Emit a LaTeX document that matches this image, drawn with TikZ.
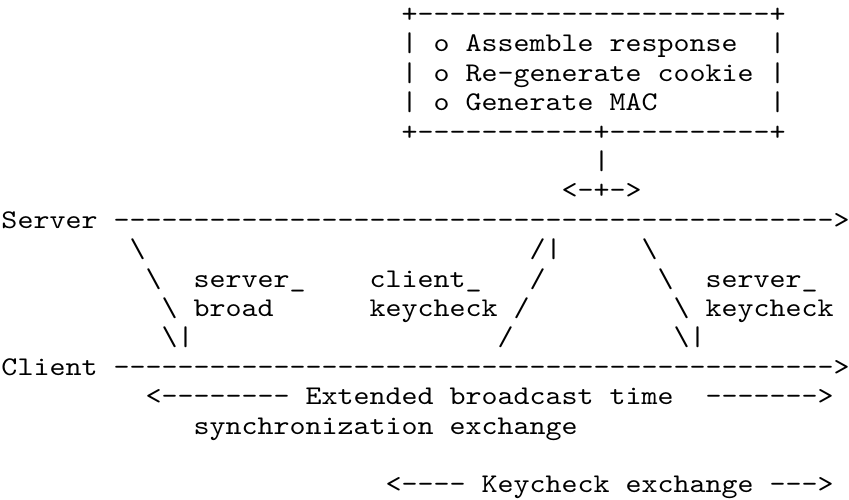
\documentclass[tikz,border=0pt]{standalone}
\usepackage{fontspec}
\newfontfamily\asciifont{lmmono10-regular.otf}[FakeStretch=1.1288]
\newcommand{\asciirule}[1]{\foreach\n in {1,...,#1}{-}}

\begin{document}
\begin{tikzpicture}[x=16pt,y=-29.4pt]
\tikzset{ascii/.style={font={\asciifont\fontsize{27}{29}\selectfont},anchor=base west,inner sep=0pt,outer sep=0pt}}
\useasboundingbox (-1.5pt,22.5pt) rectangle (847.5pt,-477.5pt);
% box with the server steps
\node[ascii] (boxtop) at (25,0) {+\asciirule{22}+};
\node[ascii] (bl1) at (25,1) {|};
\node[ascii] (assemble) at (27,1) {o Assemble response};
\node[ascii] (br1) at (48,1) {|};
\node[ascii] (bl2) at (25,2) {|};
\node[ascii] (regen) at (27,2) {o Re-generate cookie};
\node[ascii] (br2) at (48,2) {|};
\node[ascii] (bl3) at (25,3) {|};
\node[ascii] (genmac) at (27,3) {o Generate MAC};
\node[ascii] (br3) at (48,3) {|};
\node[ascii] (boxbot) at (25,4) {+\asciirule{11}+\asciirule{10}+};
\node[ascii] (stem) at (37,5) {|};
\node[ascii] (fork) at (35,6) {<-+->};
% time lines
\node[ascii] (server) at (0,7) {Server};
\node[ascii] (serverline) at (7,7) {\asciirule{45}>};
\node[ascii] (client) at (0,12) {Client};
\node[ascii] (clientline) at (7,12) {\asciirule{45}>};
% server_broad message
\node[ascii] (sba) at (8,8) {\textbackslash};
\node[ascii] (sbb) at (9,9) {\textbackslash};
\node[ascii] (sbc) at (10,10) {\textbackslash};
\node[ascii] (sbd) at (10,11) {\textbackslash|};
\node[ascii] (sblabel) at (12,9) {server\_};
\node[ascii] (sblabelb) at (12,10) {broad};
% client_keycheck message
\node[ascii] (cka) at (33,8) {/|};
\node[ascii] (ckb) at (33,9) {/};
\node[ascii] (ckc) at (32,10) {/};
\node[ascii] (ckd) at (31,11) {/};
\node[ascii] (cklabel) at (23,9) {client\_};
\node[ascii] (cklabelb) at (23,10) {keycheck};
% server_keycheck message
\node[ascii] (ska) at (40,8) {\textbackslash};
\node[ascii] (skb) at (41,9) {\textbackslash};
\node[ascii] (skc) at (42,10) {\textbackslash};
\node[ascii] (skd) at (42,11) {\textbackslash|};
\node[ascii] (sklabel) at (44,9) {server\_};
\node[ascii] (sklabelb) at (44,10) {keycheck};
% exchange spans
\node[ascii] (extl) at (9,13) {<\asciirule{8}};
\node[ascii] (ext) at (19,13) {Extended broadcast time};
\node[ascii] (extr) at (44,13) {\asciirule{7}>};
\node[ascii] (sync) at (12,14) {synchronization exchange};
\node[ascii] (kcl) at (24,16) {<\asciirule{4}};
\node[ascii] (kc) at (30,16) {Keycheck exchange};
\node[ascii] (kcr) at (48,16) {\asciirule{3}>};
\end{tikzpicture}
\end{document}
